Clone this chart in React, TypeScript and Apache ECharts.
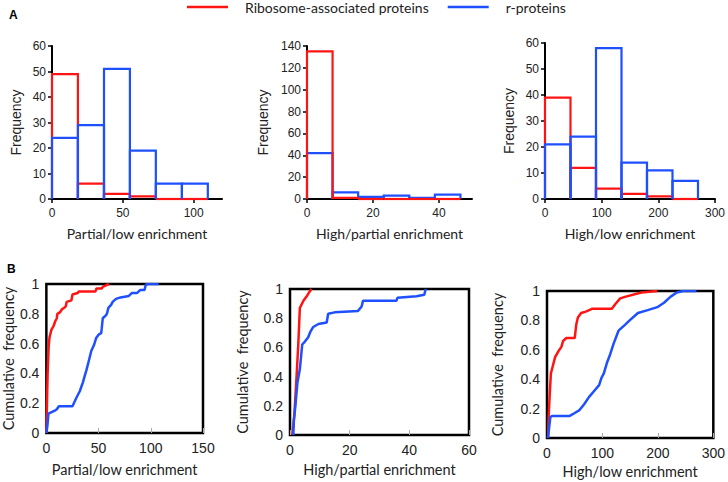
import React, { useEffect, useRef } from 'react';
import * as echarts from 'echarts';

const RED = '#ff1414';
const BLUE = '#1f50ff';
const NAME_RED = 'Ribosome-associated proteins';
const NAME_BLUE = 'r-proteins';

// Histogram A1: Partial/low enrichment
const histEdges1 = [0, 18.3, 36.7, 55, 73.3, 91.7, 110];
const histRed1 = [49, 6, 2, 1, 0, 0];
const histBlue1 = [24, 29, 51, 19, 6, 6];
// Histogram A2: High/partial enrichment
const histEdges2 = [0, 7.75, 15.5, 23.25, 31, 38.75, 46.5];
const histRed2 = [135, 1, 0, 0, 0, 0];
const histBlue2 = [42, 6, 2, 3, 1, 4];
// Histogram A3: High/low enrichment
const histEdges3 = [0, 45, 90, 135, 180, 225, 270];
const histRed3 = [39, 12, 4, 2, 1, 0];
const histBlue3 = [21, 24, 58, 14, 11, 7];

// Cumulative B1
const cumRed1 = [[0, 0], [0.6, 0.2], [1.2, 0.4], [2.2, 0.58], [3, 0.64], [4.7, 0.69], [7, 0.72], [8.5, 0.75], [10, 0.77], [10.5, 0.8], [13, 0.81], [15, 0.83], [17, 0.84], [18.6, 0.85], [19.5, 0.88], [24, 0.89], [25, 0.93], [30, 0.94], [31, 0.95], [47, 0.95], [48, 0.97], [53, 0.97], [54, 0.98], [57, 0.99], [60, 1]];
const cumBlue1 = [[0, 0], [1, 0.05], [2, 0.13], [5, 0.14], [8, 0.15], [10, 0.16], [12, 0.18], [25, 0.18], [27, 0.21], [29, 0.24], [32, 0.28], [35, 0.34], [37, 0.39], [38.3, 0.42], [40.5, 0.48], [43, 0.55], [45.6, 0.59], [47.8, 0.64], [50, 0.66], [52.5, 0.67], [53, 0.7], [54, 0.77], [57, 0.79], [58, 0.8], [59.4, 0.84], [62, 0.86], [63.5, 0.88], [66.7, 0.9], [71, 0.91], [79, 0.92], [82, 0.94], [87, 0.94], [90, 0.96], [94, 0.96], [95, 0.99], [96.5, 1], [107.5, 1]];
// Cumulative B2
const cumRed2 = [[0.8, 0], [1.5, 0.15], [2.2, 0.4], [2.8, 0.63], [3.3, 0.87], [4.5, 0.92], [5.6, 0.95], [6.5, 0.98], [7.2, 1]];
const cumBlue2 = [[1.1, 0], [1.3, 0.1], [1.8, 0.2], [2.5, 0.36], [3.3, 0.45], [4.1, 0.62], [5, 0.64], [6.1, 0.67], [6.9, 0.71], [7.8, 0.74], [9.5, 0.76], [12.3, 0.77], [12.8, 0.83], [15, 0.84], [22.8, 0.85], [24, 0.88], [24.5, 0.92], [35.7, 0.92], [36, 0.94], [42.4, 0.95], [45, 0.96], [45.5, 1]];
// Cumulative B3
const cumRed3 = [[1.8, 0], [3, 0.15], [4.7, 0.28], [7, 0.44], [10.5, 0.49], [14.6, 0.55], [20.5, 0.59], [26, 0.62], [29, 0.66], [35, 0.68], [50, 0.68], [52.7, 0.77], [55.7, 0.82], [61.5, 0.85], [70, 0.86], [82, 0.88], [117, 0.88], [123, 0.91], [132, 0.95], [140.6, 0.96], [170, 0.99], [199, 1]];
const cumBlue3 = [[1.8, 0], [5.9, 0.14], [8.8, 0.15], [41, 0.15], [50, 0.17], [58.6, 0.19], [67, 0.23], [76, 0.28], [85, 0.32], [94, 0.36], [98.4, 0.41], [102.5, 0.44], [108, 0.51], [114, 0.57], [120, 0.64], [129, 0.73], [140.6, 0.77], [149, 0.8], [164, 0.85], [181.6, 0.87], [199, 0.89], [211, 0.92], [222.6, 0.96], [234, 0.99], [246, 1], [269.5, 1]];

const xTitlesTop = ['Partial/low enrichment', 'High/partial enrichment', 'High/low enrichment'];
const xTitlesBottom = ['Partial/low enrichment', 'High/partial enrichment', 'High/low enrichment'];
const yTitleTop = 'Frequency';
const yTitleBottom = 'Cumulative  frequency';

const bins = (edges: number[], counts: number[]) => counts.map((c, i) => [edges[i], edges[i + 1], c]);

const renderBin = (params: any, api: any) => {
  const x0 = api.value(0);
  const x1 = api.value(1);
  const y = api.value(2);
  const a = api.coord([x0, 0]);
  const b = api.coord([x1, y]);
  return {
    type: 'polyline',
    shape: { points: [[a[0], a[1]], [a[0], b[1]], [b[0], b[1]], [b[0], a[1]]] },
    style: { fill: 'none', stroke: api.visual('color'), lineWidth: 2.2 },
  };
};

const ARIAL = 'Liberation Sans, Arial, sans-serif';
const TITLE_FONT = 'Lato, Open Sans, sans-serif';

export default function App() {
  const ref = useRef<HTMLDivElement>(null);
  useEffect(() => {
    if (!ref.current) return;
    const chart = echarts.init(ref.current, null, { renderer: 'svg' });

    const grids = [
      { left: 52, top: 46, width: 170, height: 153 },
      { left: 307, top: 46, width: 165, height: 153 },
      { left: 545, top: 43, width: 170, height: 156 },
      { left: 44, top: 284, width: 159, height: 149, show: true, borderColor: '#000', borderWidth: 2.5 },
      { left: 290, top: 289, width: 179, height: 146, show: true, borderColor: '#000', borderWidth: 2.5 },
      { left: 547, top: 291, width: 170, height: 147, show: true, borderColor: '#000', borderWidth: 2.5 },
    ];

    const topX = (i: number, max: number, interval: number, showMax: boolean) => ({
      type: 'value', gridIndex: i, min: 0, max, interval,
      name: xTitlesTop[i], nameLocation: 'middle', nameGap: 27,
      nameTextStyle: { fontFamily: TITLE_FONT, fontSize: 14, color: '#222' },
      axisLine: { show: true, onZero: false, lineStyle: { color: '#000', width: 2 } },
      axisTick: { show: true, length: 4, lineStyle: { color: '#000', width: 1.5 } },
      axisLabel: { fontFamily: ARIAL, fontSize: 12, color: '#222', margin: 8, showMaxLabel: showMax, showMinLabel: true },
      splitLine: { show: false },
    });
    const topY = (i: number, max: number, interval: number, gap: number) => ({
      type: 'value', gridIndex: i, min: 0, max, interval,
      name: yTitleTop, nameLocation: 'middle', nameGap: gap, nameRotate: 90,
      nameTextStyle: { fontFamily: ARIAL, fontSize: 14, color: '#222' },
      axisLine: { show: true, lineStyle: { color: '#000', width: 2 } },
      axisTick: { show: true, length: 4, lineStyle: { color: '#000', width: 1.5 } },
      axisLabel: { fontFamily: ARIAL, fontSize: 12, color: '#222', margin: 6 },
      splitLine: { show: false },
    });
    const botX = (i: number, max: number, interval: number, gap: number) => ({
      type: 'value', gridIndex: i, min: 0, max, interval,
      name: xTitlesBottom[i - 3], nameLocation: 'middle', nameGap: gap,
      nameTextStyle: { fontFamily: TITLE_FONT, fontSize: 14.5, color: '#222' },
      axisLine: { show: false },
      axisTick: { show: true, inside: true, length: 5, lineStyle: { color: '#aaa', width: 1 } },
      axisLabel: { fontFamily: ARIAL, fontSize: 14, color: '#222', margin: 8 },
      splitLine: { show: false },
    });
    const botY = (i: number, gap: number) => ({
      type: 'value', gridIndex: i, min: 0, max: 1, interval: 0.2,
      name: yTitleBottom, nameLocation: 'middle', nameGap: gap, nameRotate: 90,
      nameTextStyle: { fontFamily: TITLE_FONT, fontSize: 14.5, color: '#222' },
      axisLine: { show: false },
      axisTick: { show: false },
      axisLabel: { fontFamily: ARIAL, fontSize: 14, color: '#222', margin: 7 },
      splitLine: { show: false },
    });

    const histSeries = (i: number, name: string, color: string, data: number[][], z: number) => ({
      type: 'custom', name, xAxisIndex: i, yAxisIndex: i, z,
      itemStyle: { color },
      encode: { x: [0, 1], y: 2 },
      renderItem: renderBin,
      data,
    });
    const cumSeries = (i: number, name: string, color: string, data: number[][]) => ({
      type: 'line', name, xAxisIndex: i, yAxisIndex: i,
      data, showSymbol: false, symbol: 'none',
      itemStyle: { color },
      lineStyle: { color, width: 2.5 },
      z: 3,
    });

    chart.setOption({
      animation: false,
      backgroundColor: '#fff',
      legend: {
        data: [NAME_RED, NAME_BLUE],
        left: 187, top: 0, padding: 0,
        icon: 'rect', itemWidth: 41, itemHeight: 2.5, itemGap: 19,
        textStyle: { fontFamily: TITLE_FONT, fontSize: 14, color: '#222', padding: [0, 0, 0, 12] },
      },
      graphic: [
        { type: 'text', left: 9, top: 9, style: { text: 'A', font: 'bold 12px Liberation Sans, Arial, sans-serif', fill: '#000' } },
        { type: 'text', left: 7, top: 263, style: { text: 'B', font: 'bold 12px Liberation Sans, Arial, sans-serif', fill: '#000' } },
      ],
      grid: grids,
      xAxis: [
        topX(0, 120, 50, false),
        topX(1, 50, 20, false),
        topX(2, 300, 100, true),
        botX(3, 150, 50, 29),
        botX(4, 60, 20, 27),
        botX(5, 300, 100, 26),
      ],
      yAxis: [
        topY(0, 60, 10, 29),
        topY(1, 140, 20, 37),
        topY(2, 60, 10, 29),
        botY(3, 28),
        botY(4, 40),
        botY(5, 42),
      ],
      series: [
        histSeries(0, NAME_RED, RED, bins(histEdges1, histRed1), 2),
        histSeries(0, NAME_BLUE, BLUE, bins(histEdges1, histBlue1), 3),
        histSeries(1, NAME_BLUE, BLUE, bins(histEdges2, histBlue2), 2),
        histSeries(1, NAME_RED, RED, bins(histEdges2, histRed2), 3),
        histSeries(2, NAME_RED, RED, bins(histEdges3, histRed3), 2),
        histSeries(2, NAME_BLUE, BLUE, bins(histEdges3, histBlue3), 3),
        cumSeries(3, NAME_RED, RED, cumRed1),
        cumSeries(3, NAME_BLUE, BLUE, cumBlue1),
        cumSeries(4, NAME_RED, RED, cumRed2),
        cumSeries(4, NAME_BLUE, BLUE, cumBlue2),
        cumSeries(5, NAME_RED, RED, cumRed3),
        cumSeries(5, NAME_BLUE, BLUE, cumBlue3),
      ],
    });
    return () => chart.dispose();
  }, []);
  return <div ref={ref} style={{ position: 'fixed', left: 0, top: 0, width: 728, height: 482 }} />;
}
